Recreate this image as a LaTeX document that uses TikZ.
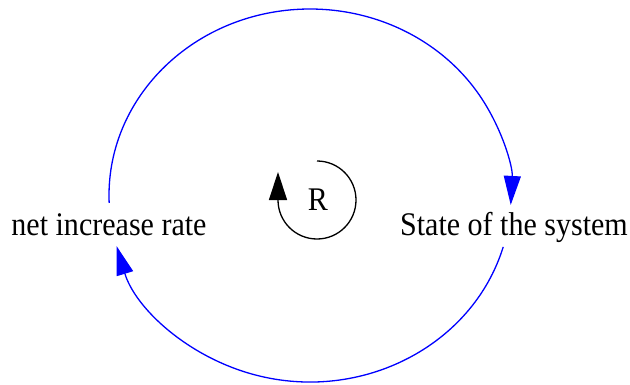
\documentclass[tikz,border=0pt]{standalone}
\usepackage{fontspec}
\setmainfont{Liberation Serif}
\newfontfamily\gvfont[FakeStretch=0.91]{Liberation Serif}
\usetikzlibrary{arrows.meta,calc}
\begin{document}
\begin{tikzpicture}[x=1pt,y=1pt,
  lbl/.style={font=\gvfont\fontsize{33}{40}\selectfont, inner sep=0pt, anchor=base},
  link/.style={draw=blue, line width=1.3pt, -{Triangle[length=29pt,width=17pt,fill=blue]}},
  loopline/.style={draw=black, line width=1.3pt, -{Triangle[length=28pt,width=18pt,fill=black]}}]
\useasboundingbox (0,0) rectangle (630,384);
\node[lbl] (rate) at (109,149) {net increase rate};
\node[lbl] (state) at (514,149) {State of the system};
\node[lbl] (R) at (318,174) {R};
\coordinate (c) at (310,188.5);
\coordinate (lc) at (317,184);
\draw[link] (c) ++(182.3:201 and 186.5) arc[start angle=182.3, end angle=-2.9, x radius=201pt, y radius=186.5pt];
\draw[link] (c) ++(-16:201 and 186.5) arc[start angle=-16, end angle=-164.3, x radius=201pt, y radius=186.5pt];
\draw[loopline] (lc) ++(0,39) arc[start angle=90, end angle=-180, radius=39pt] -- ++(0,28);
\end{tikzpicture}
\end{document}
